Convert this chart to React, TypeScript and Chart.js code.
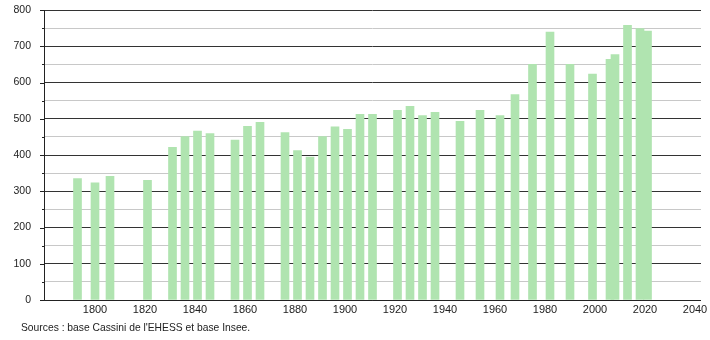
import React, { useEffect, useRef } from "react";
import { Chart, registerables } from "chart.js";

Chart.register(...registerables);

const years = [1793, 1800, 1806, 1821, 1831, 1836, 1841, 1846, 1856, 1861, 1866, 1876, 1881, 1886, 1891, 1896, 1901, 1906, 1911, 1921, 1926, 1931, 1936, 1946, 1954, 1962, 1968, 1975, 1982, 1990, 1999, 2006, 2008, 2013, 2018, 2021];
const population = [335, 323, 341, 330, 421, 451, 466, 459, 441, 479, 490, 462, 412, 394, 451, 478, 471, 512, 512, 523, 534, 509, 518, 493, 523, 509, 567, 650, 739, 650, 623, 664, 677, 758, 749, 742];
const xTickValues = [1800, 1820, 1840, 1860, 1880, 1900, 1920, 1940, 1960, 1980, 2000, 2020, 2040];
const sourceText = "Sources : base Cassini de l'EHESS et base Insee.";

const FONT = "'Liberation Sans', Arial, sans-serif";

export default function App() {
  const ref = useRef<HTMLCanvasElement | null>(null);

  useEffect(() => {
    document.body.style.margin = "0";
    const canvas = ref.current;
    if (!canvas) return;

    const tickPlugin = {
      id: "yTickMarks",
      afterDraw(chart: any) {
        const { ctx, chartArea } = chart;
        const y = chart.scales.y;
        ctx.save();
        ctx.strokeStyle = "#222";
        ctx.lineWidth = 1;
        for (let v = 0; v <= 800; v += 50) {
          const py = Math.round(y.getPixelForValue(v)) + 0.5;
          const len = v % 100 === 0 ? 4 : 2;
          ctx.beginPath();
          ctx.moveTo(chartArea.left - len, py);
          ctx.lineTo(chartArea.left, py);
          ctx.stroke();
        }
        ctx.beginPath();
        ctx.moveTo(chartArea.left + 0.5, chartArea.top);
        ctx.lineTo(chartArea.left + 0.5, chartArea.bottom + 0.5);
        ctx.lineTo(chartArea.right, chartArea.bottom + 0.5);
        ctx.stroke();
        ctx.restore();
      },
    };

    const chart = new Chart(canvas, {
      type: "bar",
      data: {
        datasets: [
          {
            data: years.map((yr, i) => ({ x: yr, y: population[i] })),
            backgroundColor: "rgb(176, 228, 176)",
            borderWidth: 0,
            barThickness: 8,
          },
        ],
      },
      options: {
        animation: false,
        responsive: false,
        maintainAspectRatio: false,
        layout: { autoPadding: false, padding: { left: 0, right: 9, top: 10, bottom: 0 } },
        plugins: {
          legend: { display: false },
          tooltip: { enabled: false },
          title: { display: false },
          subtitle: { display: false },
        },
        scales: {
          x: {
            type: "linear",
            min: 1779.6,
            max: 2042.4,
            offset: false,
            afterBuildTicks: (axis: any) => {
              axis.ticks = xTickValues.map((v) => ({ value: v }));
            },
            afterFit: (scale: any) => {
              scale.height = 40;
              scale.paddingLeft = 0;
              scale.paddingRight = 0;
            },
            grid: { display: false, drawTicks: false },
            border: { display: false },
            ticks: {
              autoSkip: false,
              maxRotation: 0,
              padding: 3,
              color: "#222",
              font: { family: FONT, size: 11 },
              callback: (v: any) => String(v),
            },
          },
          y: {
            min: 0,
            max: 800,
            afterBuildTicks: (axis: any) => {
              const t = [];
              for (let v = 0; v <= 800; v += 50) t.push({ value: v });
              axis.ticks = t;
            },
            afterFit: (scale: any) => {
              scale.width = 44;
              scale.paddingTop = 0;
              scale.paddingBottom = 0;
            },
            grid: {
              drawTicks: false,
              color: (c: any) => (c.tick && c.tick.value % 100 === 0 ? "#333" : "#c8c8c8"),
              lineWidth: 1,
            },
            border: { display: false },
            ticks: {
              padding: 13,
              color: "#222",
              font: { family: FONT, size: 10.5 },
              callback: (v: any) => (Number(v) % 100 === 0 ? String(v) : ""),
            },
          },
        },
      },
      plugins: [tickPlugin],
    });

    return () => chart.destroy();
  }, []);

  return (
    <div style={{ position: "relative", width: 710, height: 340, background: "#fff" }}>
      <canvas ref={ref} width={710} height={340} style={{ display: "block", width: 710, height: 340 }} />
      <div
        style={{
          position: "absolute",
          left: 21,
          top: 322,
          fontFamily: FONT,
          fontSize: 10.3,
          color: "#222",
          whiteSpace: "nowrap",
        }}
      >
        {sourceText}
      </div>
    </div>
  );
}
